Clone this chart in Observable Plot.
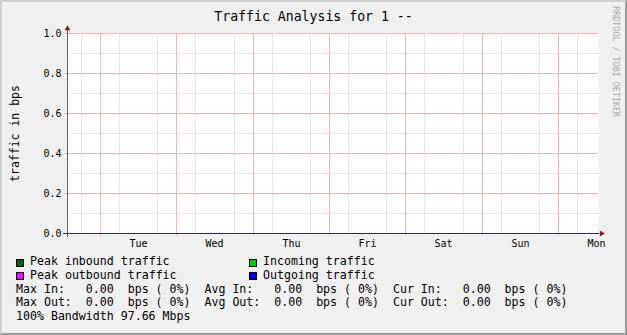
<!DOCTYPE html>
<html>
<head>
<meta charset="utf-8">
<script src="https://cdn.jsdelivr.net/npm/d3@7"></script>
<script src="https://cdn.jsdelivr.net/npm/@observablehq/plot@0.6"></script>
<style>
  html, body { margin: 0; padding: 0; background: #f0f0f0; }
  #chart { position: relative; width: 627px; height: 335px; background: #f0f0f0; overflow: hidden;
           font-family: "DejaVu Sans Mono", monospace; color: #000; }
  #chart svg { position: absolute; left: 0; top: 0; }
  #chart .border { position: absolute; left: 0; top: 0; right: 0; bottom: 0; border-style: solid; border-width: 2px;
                   border-color: #cfcfcf #9e9e9e #9e9e9e #cfcfcf; pointer-events: none; }
  #chart .t { position: absolute; white-space: pre; line-height: 1.164em; }
  #chart .sw { position: absolute; width: 6px; height: 6px; border: 1px solid #000; }
</style>
</head>
<body>
<div id="chart"><div class="border"></div></div>
<script>
// ---- data ----
const title = "Traffic Analysis for 1 --";
const yLabel = "traffic in bps";
const watermark = "RRDTOOL / TOBI OETIKER";
const days = ["Tue", "Wed", "Thu", "Fri", "Sat", "Sun", "Mon"];
const dayLabelHours = [12, 36, 60, 84, 108, 132, 156];      // noon of each day (hours since Tue 00:00)
const dayStartHours = [0, 24, 48, 72, 96, 120, 144];        // midnight major grid
const minorHours = [-6, 6, 18, 30, 42, 54, 66, 78, 90, 102, 114, 126, 138, 150];
const yMajorTicks = [0.0, 0.2, 0.4, 0.6, 0.8, 1.0];
const yMinorTicks = [0.1, 0.3, 0.5, 0.7, 0.9];
const xDomain = [-10.375, 156.6];
const yDomain = [0, 1];
// sampled traffic (all zero in the reference)
const sampleHours = [-10, 0, 12, 24, 36, 48, 60, 72, 84, 96, 108, 120, 132, 144, 156];
const incoming    = [0, 0, 0, 0, 0, 0, 0, 0, 0, 0, 0, 0, 0, 0, 0];
const outgoing    = [0, 0, 0, 0, 0, 0, 0, 0, 0, 0, 0, 0, 0, 0, 0];
const peakIn      = [0, 0, 0, 0, 0, 0, 0, 0, 0, 0, 0, 0, 0, 0, 0];
const peakOut     = [0, 0, 0, 0, 0, 0, 0, 0, 0, 0, 0, 0, 0, 0, 0];
// legend
const legendNames  = ["Peak inbound traffic", "Incoming traffic", "Peak outbound traffic", "Outgoing traffic"];
const legendColors = ["#006600", "#00cc00", "#ff00ff", "#0000ff"];
const statNames = ["Max", "Avg", "Cur"];
const statIn    = [0.00, 0.00, 0.00];
const statOut   = [0.00, 0.00, 0.00];
const pctIn     = [0, 0, 0];
const pctOut    = [0, 0, 0];
const bandwidthMbps = 97.66;

// ---- plot ----
const font = "DejaVu Sans Mono";
const series = sampleHours.map((h, i) => ({h, inc: incoming[i], out: outgoing[i], pin: peakIn[i], pout: peakOut[i]}));

const triUp = {draw(ctx, size) { const s = Math.sqrt(size) * 0.6824, t = s / 2, u = s * Math.sqrt(3) / 2;
  ctx.moveTo(0, -s); ctx.lineTo(u, t); ctx.lineTo(-u, t); ctx.closePath(); }};
const triRight = {draw(ctx, size) { const s = Math.sqrt(size) * 0.6824, t = s / 2, u = s * Math.sqrt(3) / 2;
  ctx.moveTo(s, 0); ctx.lineTo(-t, u); ctx.lineTo(-t, -u); ctx.closePath(); }};

const chart = Plot.plot({
  width: 627, height: 335,
  marginLeft: 67, marginRight: 29, marginTop: 33, marginBottom: 102,
  style: {background: "transparent", fontFamily: font, fontSize: "10px", color: "#000", overflow: "visible"},
  x: {type: "linear", domain: xDomain, round: true},
  y: {type: "linear", domain: yDomain, round: true},
  marks: [
    Plot.frame({fill: "#ffffff", stroke: "none"}),
    Plot.ruleY(yMinorTicks, {stroke: "#e4e4e4"}),
    Plot.ruleX(minorHours, {stroke: "#e4e4e4"}),
    Plot.ruleY(yMajorTicks.filter(v => v > 0), {stroke: "#f2b4b4", insetLeft: -2}),
    Plot.ruleX(dayStartHours, {stroke: "#f2b4b4", insetBottom: -3}),
    Plot.areaY(series, {x: "h", y: "inc", fill: "#00cc00"}),
    Plot.line(series, {x: "h", y: "pin", stroke: "#006600", strokeWidth: 1}),
    Plot.line(series, {x: "h", y: "pout", stroke: "#ff00ff", strokeWidth: 1}),
    Plot.line(series, {x: "h", y: "out", stroke: "#0000ff", strokeWidth: 1}),
    Plot.ruleX([xDomain[0]], {stroke: "#606060", insetTop: -3, insetBottom: -4}),
    Plot.ruleY([0], {stroke: "#2a2a68", insetLeft: -4, insetRight: -1}),
    Plot.dot([{x: xDomain[0], y: yDomain[1]}], {x: "x", y: "y", symbol: triUp, r: 2.76, fill: "#8e1414", stroke: "none", dy: -5}),
    Plot.dot([{x: xDomain[1], y: yDomain[0]}], {x: "x", y: "y", symbol: triRight, r: 2.76, fill: "#8e1414", stroke: "none", dx: 3}),
    Plot.axisY(yMajorTicks, {tickSize: 0, tickPadding: 6, tickFormat: d3.format(".1f"), fontSize: 10, label: null}),
    Plot.axisX(dayLabelHours, {tickSize: 0, tickPadding: 6, tickFormat: d => days[dayLabelHours.indexOf(d)], fontSize: 10, label: null}),
    Plot.text([yLabel], {text: d => d, frameAnchor: "left", rotate: -90, textAnchor: "middle", lineAnchor: "bottom",
                         dx: -49, fontSize: 11.5, fill: "#000"}),
    Plot.text([watermark], {text: d => d, frameAnchor: "top-right", rotate: 90, textAnchor: "start", lineAnchor: "bottom",
                            dx: 14.5, dy: -27.3, fontSize: 8.4, fill: "#a8a8a8"})
  ]
});

const root = document.getElementById("chart");
root.insertBefore(chart, root.firstChild);

// ---- HTML title and legend ----
function addText(str, x, baseline, fs, extra = {}) {
  const d = document.createElement("div");
  d.className = "t";
  d.textContent = str;
  d.style.fontSize = fs + "px";
  d.style.left = x + "px";
  d.style.top = (baseline - 0.928 * fs) + "px";
  Object.assign(d.style, extra);
  root.appendChild(d);
  return d;
}
addText(title, 0, 20.8, 13.2, {width: "627px", textAlign: "center"});

const legFs = 11.6;
const rowBase = [266, 279.7, 293.4, 307.1, 320.8];
const legendCols = [[16, 30], [249, 263]];
legendNames.forEach((name, i) => {
  const row = Math.floor(i / 2), col = i % 2;
  const [sx, tx] = legendCols[col];
  const sw = document.createElement("div");
  sw.className = "sw";
  sw.style.left = sx + "px";
  sw.style.top = (rowBase[row] - 7.5) + "px";
  sw.style.background = legendColors[i];
  root.appendChild(sw);
  addText(name, tx, rowBase[row], legFs);
});
function statLine(dir, vals, pcts) {
  return statNames.map((n, i) =>
    (n + " " + dir + ":").padEnd(8) + vals[i].toFixed(2).padStart(6) + "  bps (" + pcts[i].toFixed(0).padStart(2) + "%)"
  ).join("  ");
}
addText(statLine("In", statIn, pctIn), 16, rowBase[2], legFs);
addText(statLine("Out", statOut, pctOut), 16, rowBase[3], legFs);
addText("100% Bandwidth " + bandwidthMbps.toFixed(2) + " Mbps", 16, rowBase[4], legFs);
</script>
</body>
</html>
